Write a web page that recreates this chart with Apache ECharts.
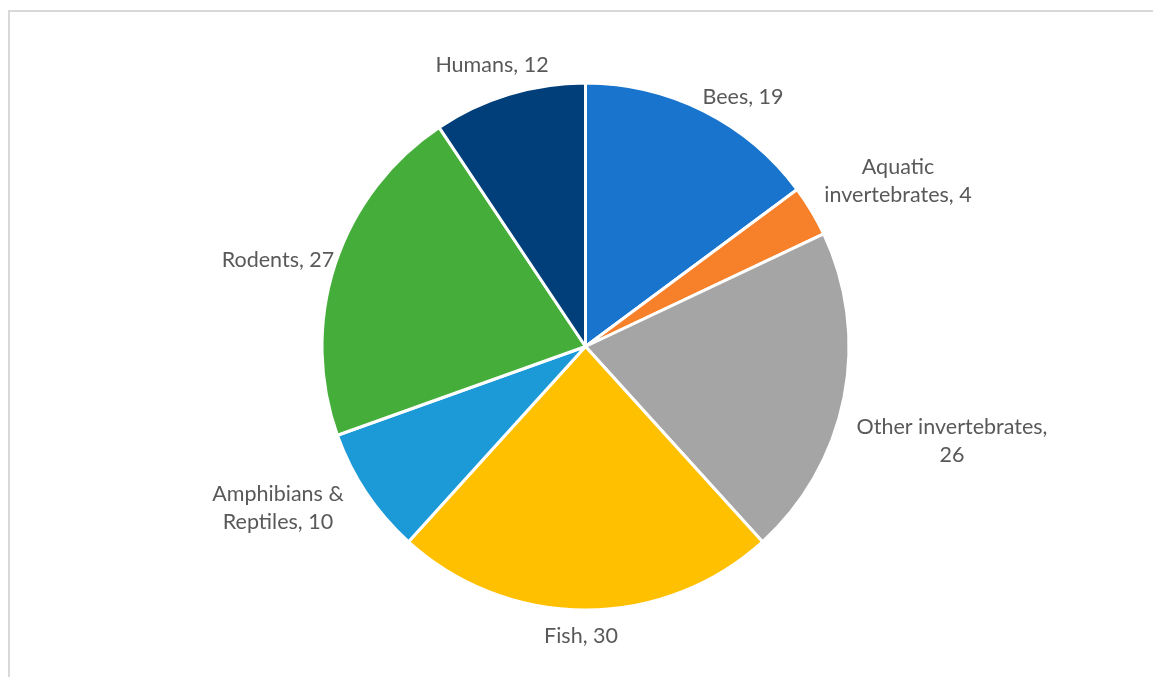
<!DOCTYPE html>
<html>
<head>
<meta charset="utf-8">
<script src="https://cdn.jsdelivr.net/npm/echarts@6/dist/echarts.min.js"></script>
<style>
  html, body { margin: 0; padding: 0; background: #ffffff; }
  #frame { position: absolute; left: 8px; top: 10px; width: 1200px; height: 700px;
           border-left: 2px solid #d9d9d9; border-top: 2px solid #d9d9d9; }
  #chart { position: absolute; left: 0; top: 0; width: 1153px; height: 677px; }
</style>
</head>
<body>
<div id="frame"></div>
<div id="chart"></div>
<script>
// ---- data ----
const categories = ['Bees', 'Aquatic invertebrates', 'Other invertebrates', 'Fish', 'Amphibians & Reptiles', 'Rodents', 'Humans'];
const values = [19, 4, 26, 30, 10, 27, 12];
const colors = ['#1874CD', '#F7812A', '#A5A5A5', '#FFC000', '#1C9AD7', '#45AE3B', '#003F79'];

// ---- layout / style (not data) ----
const labelText = [
  'Bees, 19',
  'Aquatic\ninvertebrates, 4',
  'Other invertebrates,\n26',
  'Fish, 30',
  'Amphibians &\nReptiles, 10',
  'Rodents, 27',
  'Humans, 12'
];
const labelCenters = [
  [743, 97], [898, 181], [952, 441], [581, 636], [278, 508], [278, 260], [492, 65]
];

const chart = echarts.init(document.getElementById('chart'), null, { renderer: 'canvas' });
chart.setOption({
  animation: false,
  series: [{
    type: 'pie',
    center: [585.5, 346.5],
    radius: 263.5,
    startAngle: 90,
    clockwise: true,
    silent: true,
    avoidLabelOverlap: false,
    itemStyle: { borderColor: '#ffffff', borderWidth: 3 },
    label: {
      show: true,
      position: 'outside',
      color: '#595959',
      fontFamily: 'Lato',
      fontSize: 21.5,
      lineHeight: 28,
      align: 'center',
      formatter: p => labelText[p.dataIndex]
    },
    labelLine: { show: false },
    labelLayout: p => ({
      x: labelCenters[p.dataIndex][0],
      y: labelCenters[p.dataIndex][1],
      align: 'center',
      verticalAlign: 'middle'
    }),
    data: categories.map((c, i) => ({ name: c, value: values[i], itemStyle: { color: colors[i] } }))
  }]
});
</script>
</body>
</html>
